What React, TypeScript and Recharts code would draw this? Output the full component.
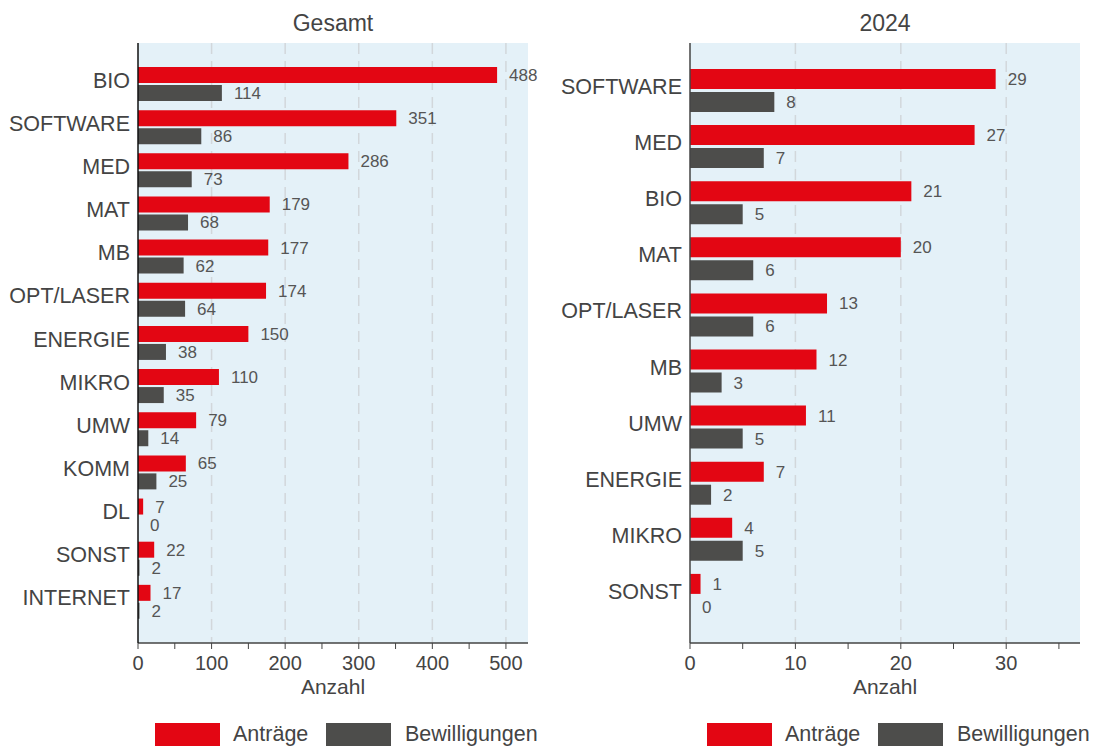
import { BarChart, Bar, XAxis, YAxis, CartesianGrid, LabelList } from 'recharts';

const categoriesTotal = ['BIO', 'SOFTWARE', 'MED', 'MAT', 'MB', 'OPT/LASER', 'ENERGIE', 'MIKRO', 'UMW', 'KOMM', 'DL', 'SONST', 'INTERNET'];
const applicationsTotal = [488, 351, 286, 179, 177, 174, 150, 110, 79, 65, 7, 22, 17];
const approvalsTotal = [114, 86, 73, 68, 62, 64, 38, 35, 14, 25, 0, 2, 2];
const ticksTotal = [0, 50, 100, 150, 200, 250, 300, 350, 400, 450, 500];

const categories2024 = ['SOFTWARE', 'MED', 'BIO', 'MAT', 'OPT/LASER', 'MB', 'UMW', 'ENERGIE', 'MIKRO', 'SONST'];
const applications2024 = [29, 27, 21, 20, 13, 12, 11, 7, 4, 1];
const approvals2024 = [8, 7, 5, 6, 6, 3, 5, 2, 5, 0];
const ticks2024 = [0, 5, 10, 15, 20, 25, 30, 35];

const RED = '#e30613';
const GRAY = '#4d4d4b';
const TEXT = '#444';
const FONT = '"Liberation Sans", Arial, sans-serif';

const rows = (cats: string[], a: number[], b: number[]) =>
  cats.map((name, i) => ({ name, antraege: a[i], bewilligungen: b[i] }));

function makeTick(step: number) {
  return ({ x, y, payload }: any) => (
    <text x={x} y={y} dy={19} textAnchor="middle" fontSize={20} fill={TEXT} fontFamily={FONT}>
      {payload.value % step === 0 ? payload.value : ''}
    </text>
  );
}

const CategoryTick = ({ x, y, payload }: any) => (
  <text x={x} y={y} dy={4} textAnchor="end" fontSize={21.5} fill={TEXT} fontFamily={FONT}>
    {payload.value}
  </text>
);

// own label renderer so that zero values still get their "0"
const ValueLabel = ({ x, y, width, height, value }: any) => (
  <text
    x={Number(x) + Number(width || 0) + 12}
    y={Number(y) + Number(height) / 2}
    dy={6}
    fontSize={17}
    fill="#555"
    fontFamily={FONT}
  >
    {value}
  </text>
);

interface PanelProps {
  data: { name: string; antraege: number; bewilligungen: number }[];
  left: number;
  width: number;
  marginLeft: number;
  domainMax: number;
  ticks: number[];
  grid: number[];
  step: number;
  barSize: number;
  barGap: number;
  yAxisColor: string;
}

function Panel(p: PanelProps) {
  return (
    <div style={{ position: 'absolute', left: p.left, top: 0 }}>
      <BarChart
        width={p.width}
        height={700}
        data={p.data}
        layout="vertical"
        barGap={p.barGap}
        margin={{ top: 43, right: 15, left: p.marginLeft, bottom: 0 }}
      >
        <CartesianGrid
          horizontal={false}
          verticalValues={p.grid}
          fill="#e4f1f8"
          fillOpacity={1}
          stroke="#d2d7db"
          strokeWidth={1.5}
          strokeDasharray="11 7"
        />
        <XAxis
          type="number"
          domain={[0, p.domainMax]}
          ticks={p.ticks}
          allowDataOverflow
          height={57}
          tick={makeTick(p.step)}
          tickSize={6}
          stroke="#444"
          axisLine={{ stroke: '#444', strokeWidth: 1.5 }}
          tickLine={{ stroke: '#444' }}
          label={{ value: 'Anzahl', position: 'insideBottom', offset: 6, fontSize: 21, fill: TEXT, fontFamily: FONT }}
        />
        <YAxis
          type="category"
          dataKey="name"
          width={130}
          padding={{ top: 19, bottom: 20 }}
          tickLine={false}
          tickSize={0}
          tickMargin={8}
          axisLine={{ stroke: p.yAxisColor, strokeWidth: 1.5 }}
          tick={CategoryTick}
          interval={0}
        />
        <Bar dataKey="antraege" name="Anträge" fill={RED} barSize={p.barSize} minPointSize={0.01} isAnimationActive={false}>
          <LabelList dataKey="antraege" content={ValueLabel} />
        </Bar>
        <Bar dataKey="bewilligungen" name="Bewilligungen" fill={GRAY} barSize={p.barSize} minPointSize={0.01} isAnimationActive={false}>
          <LabelList dataKey="bewilligungen" content={ValueLabel} />
        </Bar>
      </BarChart>
    </div>
  );
}

function LegendRow({ x }: { x: number }) {
  return (
    <g fontFamily={FONT} fontSize={21.5} fill={TEXT}>
      <rect x={x} y={723} width={65} height={23} fill={RED} />
      <text x={x + 78} y={741}>Anträge</text>
      <rect x={x + 171} y={723} width={65} height={23} fill={GRAY} />
      <text x={x + 250} y={741}>Bewilligungen</text>
    </g>
  );
}

export default function App() {
  return (
    <div style={{ position: 'absolute', left: 0, top: 0, width: 1095, height: 747, background: '#fff', fontFamily: FONT }}>
      <Panel
        data={rows(categoriesTotal, applicationsTotal, approvalsTotal)}
        left={0}
        width={543}
        marginLeft={8}
        domainMax={530}
        ticks={ticksTotal}
        grid={[100, 200, 300, 400, 500]}
        step={100}
        barSize={16}
        barGap={2}
        yAxisColor="#111"
      />
      <Panel
        data={rows(categories2024, applications2024, approvals2024)}
        left={545}
        width={550}
        marginLeft={15}
        domainMax={37}
        ticks={ticks2024}
        grid={[10, 20, 30]}
        step={10}
        barSize={20}
        barGap={3}
        yAxisColor="#444"
      />
      <svg width={1095} height={747} style={{ position: 'absolute', left: 0, top: 0, pointerEvents: 'none' }}>
        <text x={333} y={31} textAnchor="middle" fontSize={23} fill={TEXT} fontFamily={FONT}>Gesamt</text>
        <text x={885} y={31} textAnchor="middle" fontSize={23} fill={TEXT} fontFamily={FONT}>2024</text>
        <LegendRow x={155} />
        <LegendRow x={707} />
      </svg>
    </div>
  );
}
